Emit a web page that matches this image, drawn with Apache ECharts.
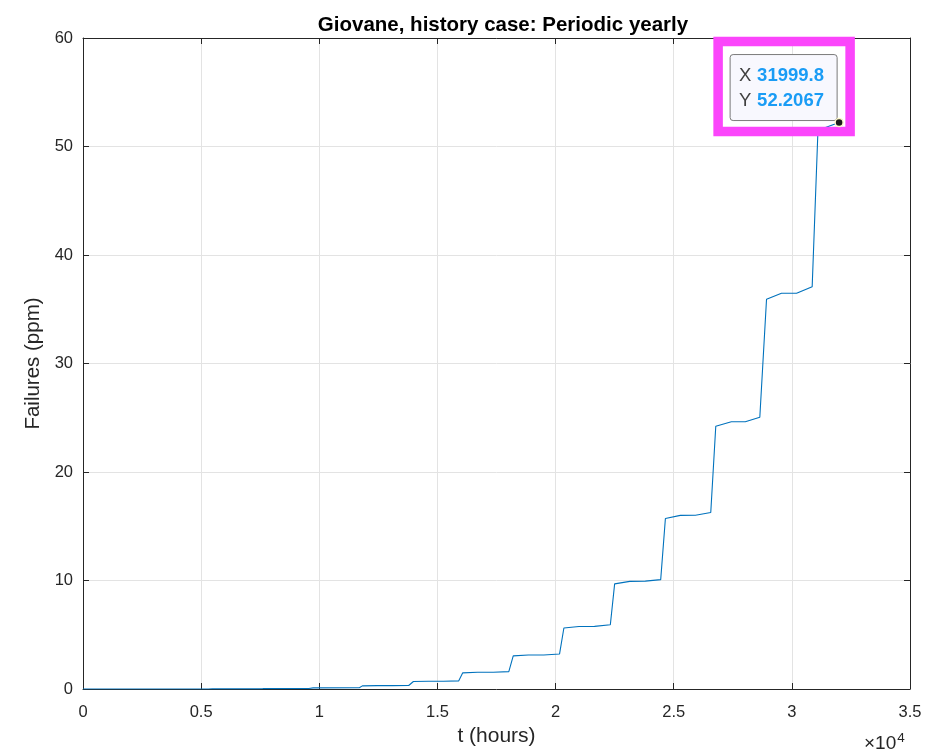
<!DOCTYPE html>
<html>
<head>
<meta charset="utf-8">
<script src="https://cdn.jsdelivr.net/npm/echarts@6/dist/echarts.min.js"></script>
<style>
html,body{margin:0;padding:0;background:#fff;}
#chart{width:941px;height:752px;}
</style>
</head>
<body>
<div id="chart"></div>
<script>
// ---- data ----
const titleText = 'Giovane, history case: Periodic yearly';
const xName = 't (hours)';
const yName = 'Failures (ppm)';
const tHours = [0, 3000, 5300, 5480, 7430, 7610, 9560, 9740,
  11695, 11822, 12460, 13100, 13784,
  13983, 14620, 15260, 15903,
  16072, 16700, 17360, 18021,
  18208, 18850, 19500, 20169,
  20352, 20990, 21650, 22318,
  22500, 23140, 23800, 24449,
  24648, 25280, 25920, 26568,
  26780, 27440, 28030, 28644,
  28928, 29560, 30200, 30860,
  31105, 31999.8];
const failures = [0, 0.001, 0.003, 0.008, 0.012, 0.03, 0.045, 0.1,
  0.12, 0.29, 0.31, 0.31, 0.32,
  0.69, 0.72, 0.72, 0.75,
  1.49, 1.54, 1.54, 1.6,
  3.05, 3.13, 3.14, 3.23,
  5.62, 5.76, 5.77, 5.92,
  9.69, 9.92, 9.94, 10.08,
  15.72, 16.0, 16.02, 16.27,
  24.22, 24.63, 24.63, 25.05,
  35.92, 36.47, 36.47, 37.08,
  51.5, 52.2067];
const xTicks = [0, 5000, 10000, 15000, 20000, 25000, 30000, 35000];
const yTicks = [0, 10, 20, 30, 40, 50, 60];
const tipIndex = tHours.length - 1;

const font = '"Liberation Sans", Arial, Helvetica, sans-serif';
const txt = '#262626';
const data = tHours.map((t, i) => [t, failures[i]]);

const chart = echarts.init(document.getElementById('chart'), null, {renderer: 'canvas'});

function xAxisDef(pos, showLabel) {
  return {
    type: 'value', position: pos, min: xTicks[0], max: xTicks[xTicks.length - 1],
    interval: xTicks[1] - xTicks[0],
    name: showLabel ? xName : '', nameLocation: 'middle', nameGap: 37,
    nameTextStyle: {fontFamily: font, fontSize: 21, color: txt},
    axisLine: {show: true, onZero: false, lineStyle: {color: txt, width: 1}},
    axisTick: {show: true, inside: true, length: 6, lineStyle: {color: txt, width: 1}},
    axisLabel: {show: showLabel, margin: 15, fontFamily: font, fontSize: 16.5, color: txt,
      formatter: v => String(v / 10000)},
    splitLine: {show: showLabel, lineStyle: {color: '#e3e3e3', width: 1}}
  };
}
function yAxisDef(pos, showLabel) {
  return {
    type: 'value', position: pos, min: yTicks[0], max: yTicks[yTicks.length - 1],
    interval: yTicks[1] - yTicks[0],
    name: showLabel ? yName : '', nameLocation: 'middle', nameGap: 34,
    nameTextStyle: {fontFamily: font, fontSize: 20.5, color: txt},
    axisLine: {show: true, onZero: false, lineStyle: {color: txt, width: 1}},
    axisTick: {show: true, inside: true, length: 6, lineStyle: {color: txt, width: 1}},
    axisLabel: {show: showLabel, margin: 10, fontFamily: font, fontSize: 16.5, color: txt},
    splitLine: {show: showLabel, lineStyle: {color: '#e3e3e3', width: 1}}
  };
}

chart.setOption({
  animation: false,
  backgroundColor: '#ffffff',
  title: {text: titleText, left: 498, textAlign: 'center', top: 10,
    textStyle: {fontFamily: font, fontSize: 20.5, fontWeight: 'bold', color: '#000'}},
  grid: {left: 83, right: 31, top: 38, bottom: 62},
  xAxis: [xAxisDef('bottom', true), xAxisDef('top', false)],
  yAxis: [yAxisDef('left', true), yAxisDef('right', false)],
  series: [{
    type: 'line', data: data, showSymbol: false, symbol: 'none',
    lineStyle: {color: '#0072BD', width: 1.1}, z: 3
  }]
});

const p = chart.convertToPixel({xAxisIndex: 0, yAxisIndex: 0}, data[tipIndex]);
const px = p[0], py = p[1];
const bw = 107, bh = 66;
const bx = px - bw - 2, by = py - bh - 2;
chart.setOption({
  graphic: [
    {type: 'text', left: 864, top: 731, z: 10,
      style: {text: '×10{s|4}', fontFamily: font, fontSize: 19, fill: txt,
        rich: {s: {fontSize: 13.5, verticalAlign: 'top', padding: [0, 0, 12, 1], fontFamily: font, fill: txt}}}},
    {type: 'rect', z: 20,
      shape: {x: px - 121, y: py - 81, width: 132, height: 90},
      style: {fill: 'none', stroke: '#fb45fb', lineWidth: 9.5}},
    {type: 'rect', z: 21,
      shape: {x: bx, y: by, width: bw, height: bh, r: 3},
      style: {fill: '#f8f8fe', stroke: '#7a7a7a', lineWidth: 1}},
    {type: 'text', z: 22, x: bx + 9, y: by + 12,
      style: {text: 'X', fontFamily: font, fontSize: 18.5, fill: '#404040'}},
    {type: 'text', z: 22, x: bx + 27, y: by + 12,
      style: {text: data[tipIndex][0].toFixed(1), fontFamily: font, fontSize: 18.5, fontWeight: 'bold', fill: '#1a9cf5'}},
    {type: 'text', z: 22, x: bx + 9, y: by + 37,
      style: {text: 'Y', fontFamily: font, fontSize: 18.5, fill: '#404040'}},
    {type: 'text', z: 22, x: bx + 27, y: by + 37,
      style: {text: data[tipIndex][1].toFixed(4), fontFamily: font, fontSize: 18.5, fontWeight: 'bold', fill: '#1a9cf5'}},
    {type: 'circle', z: 23, shape: {cx: px, cy: py, r: 4},
      style: {fill: '#1a1a1a', stroke: '#fbf6c8', lineWidth: 1.5}}
  ]
});
</script>
</body>
</html>
